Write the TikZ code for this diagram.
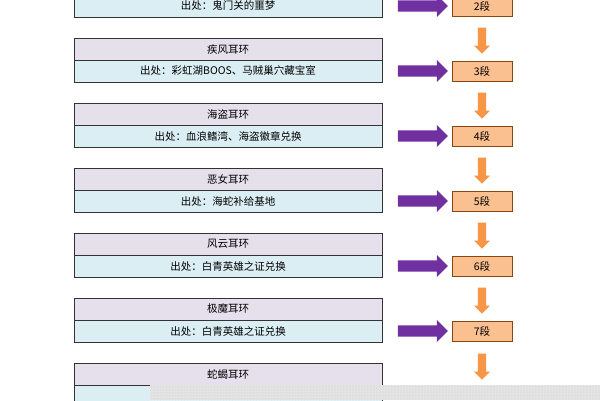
\documentclass[tikz,border=0pt]{standalone}
\usepackage{fontspec}
\setmainfont{Noto Sans CJK SC}
\usetikzlibrary{shapes.arrows,patterns}
\definecolor{titlefill}{HTML}{E6E0EC}
\definecolor{srcfill}{HTML}{DBEEF4}
\definecolor{stagefill}{HTML}{FAC090}
\definecolor{stagedraw}{HTML}{8B4513}
\definecolor{purplearrow}{HTML}{7030A0}
\definecolor{orangearrow}{HTML}{F79646}
\begin{document}
\begin{tikzpicture}[x=1pt,y=-1pt,
  titlebox/.style={draw=black!80, fill=titlefill, minimum width=308pt, minimum height=22pt, inner sep=0pt, font=\fontsize{10.5}{12}\selectfont},
  srcbox/.style={draw=black!80, fill=srcfill, minimum width=308pt, minimum height=22pt, inner sep=0pt, font=\fontsize{10.5}{12}\selectfont},
  stagebox/.style={draw=stagedraw, fill=stagefill, minimum width=60pt, minimum height=20pt, inner sep=0pt, font=\fontsize{10.5}{12}\selectfont},
  rightarr/.style={single arrow, fill=purplearrow, draw=none, minimum height=50pt, minimum width=22pt, single arrow head extend=3pt, inner sep=3pt},
  downarr/.style={single arrow, shape border rotate=270, fill=orangearrow, draw=none, minimum height=26pt, minimum width=16pt, single arrow head extend=2pt, inner sep=2pt}]
\useasboundingbox (0,0) rectangle (600,400);
\fill[white] (0,0) rectangle (600,400);
% items
\foreach \k/\name/\src in {2/{}/出处：鬼门关的噩梦, 3/疾风耳环/出处：彩虹湖BOOS、马贼巢穴藏宝室, 4/海盗耳环/出处：血浪鳍湾、海盗徽章兑换, 5/恶女耳环/出处：海蛇补给基地, 6/风云耳环/出处：白青英雄之证兑换, 7/极魔耳环/出处：白青英雄之证兑换}{
  \pgfmathsetmacro{\ty}{38+65*(\k-3)}
  \node[titlebox] (t\k) at (228,\ty+11) {\name};
  \node[srcbox] (s\k) at (228,\ty+33) {\src};
  \node[stagebox] (g\k) at (482,\ty+33) {\k 段};
  \node[rightarr] (p\k) at (420,\ty+33) {};
}
\node[titlebox] (t8) at (228,374) {蛇蝎耳环};
\node[srcbox] (s8) at (228,396) {};
% stage links
\foreach \k in {2,...,6}{
  \pgfmathtruncatemacro{\n}{\k+1}
  \path (g\k.south) -- (g\n.north) node[downarr, midway] (d\k) {};
}
\coordinate (end7) at (482,388);
\path (g7.south) -- (end7) node[downarr, midway] (d7) {};
% dotted band
\fill[black!12] (150,385) rectangle (600,400);
\fill[pattern=dots, pattern color=white] (150,385) rectangle (600,400);
\end{tikzpicture}
\end{document}
